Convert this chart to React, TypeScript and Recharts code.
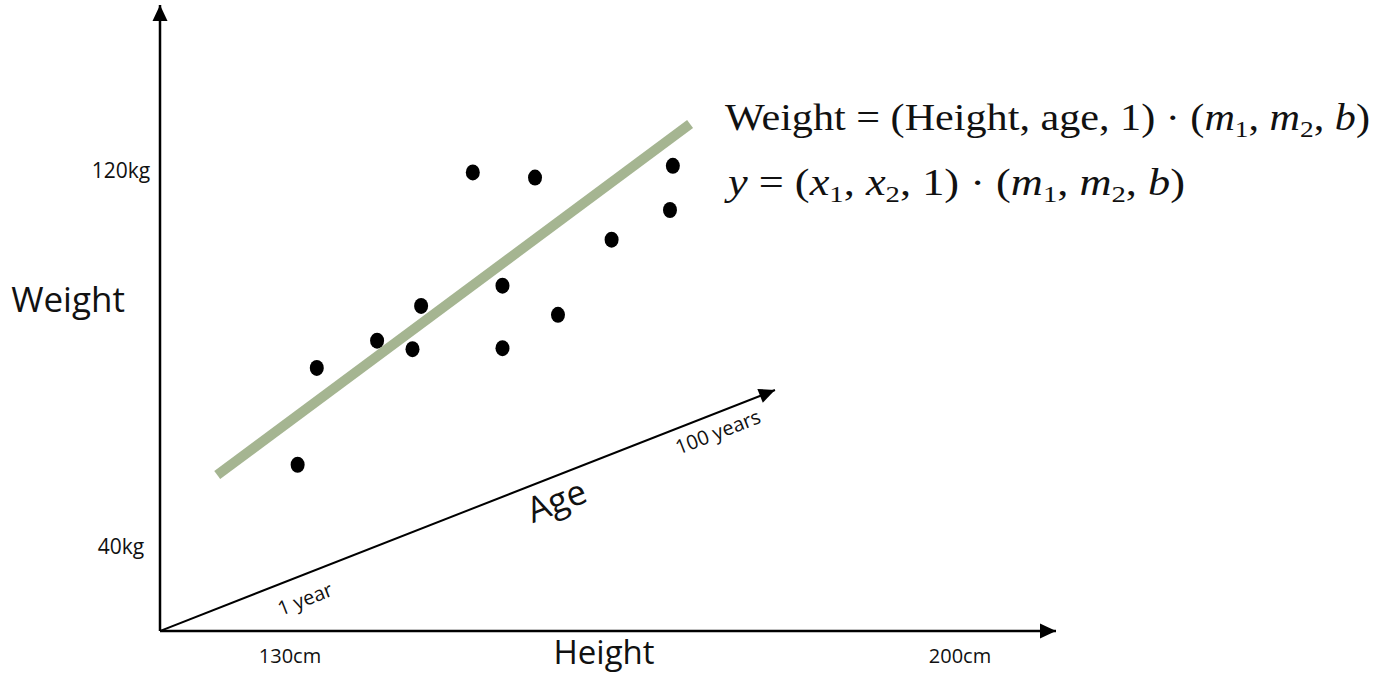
import React from 'react';
import { ComposedChart, XAxis, YAxis, Scatter, Line, ReferenceLine, ReferenceDot } from 'recharts';

// sample people: height (cm) and weight (kg)
const heights = [130.8, 132.8, 139.1, 142.8, 143.7, 149.1, 152.2, 152.2, 155.6, 158.0, 163.6, 169.7, 170.0];
const weights = [57.5, 78.1, 83.9, 82.1, 91.3, 119.7, 95.6, 82.3, 118.6, 89.4, 105.4, 111.7, 121.1];

// fitted line ends
const fitHeights = [122.4, 171.8];
const fitWeights = [55.3, 130.0];

// age axis drawn in perspective (from origin to the 100 years end)
const ageHeights = [116.42, 180.67];
const ageWeights = [22.13, 73.4];

const xTicks = [130, 200];
const xTickLabels = ['130cm', '200cm'];
const yTicks = [40, 120];
const yTickLabels = ['40kg', '120kg'];

const xDomain = [116.42, 210.03];
const yDomain = [22.13, 155.32];

const points = heights.map((h, i) => ({ x: h, y: weights[i] }));
const ageLine = ageHeights.map((h, i) => ({ x: h, y: ageWeights[i] }));

const sans = '"Open Sans", "Noto Sans", sans-serif';
const serif = '"Liberation Serif", "DejaVu Serif", serif';

const XTick = (props: any) => {
  const i = xTicks.indexOf(props.payload.value);
  return (
    <text x={props.x} y={663} textAnchor="middle" fontFamily={sans} fontSize={20} fill="#111">
      {xTickLabels[i]}
    </text>
  );
};

const YTick = (props: any) => {
  const i = yTicks.indexOf(props.payload.value);
  return (
    <text x={121} y={props.y + 7} textAnchor="middle" fontFamily={sans} fontSize={21} fill="#111">
      {yTickLabels[i]}
    </text>
  );
};

const Dot = (props: any) => <ellipse cx={props.cx} cy={props.cy} rx={7} ry={8} fill="#000" />;

const arrow = (angle: number) => (props: any) => {
  const { cx, cy } = props;
  return (
    <polygon
      points={`${cx},${cy} ${cx - 16},${cy - 7.5} ${cx - 16},${cy + 7.5}`}
      fill="#000"
      transform={`rotate(${angle} ${cx} ${cy})`}
    />
  );
};

// subscript followed by the text that comes after it (so the baseline is restored)
const Sub = ({ s, after }: { s: string; after: string }) => (
  <>
    <tspan fontSize={24} dy={7}>{s}</tspan>
    <tspan dy={-7}>{after}</tspan>
  </>
);

const I = ({ children }: { children: string }) => <tspan fontStyle="italic">{children}</tspan>;

export default function App() {
  return (
    <div style={{ position: 'absolute', left: 0, top: 0, width: 1376, height: 675, background: '#fff' }}>
      <ComposedChart width={1376} height={675} margin={{ top: 5, left: 100, right: 320, bottom: 14 }}>
        <XAxis
          type="number"
          dataKey="x"
          domain={xDomain}
          ticks={xTicks}
          tick={<XTick />}
          tickLine={false}
          axisLine={{ stroke: '#000', strokeWidth: 2.5 }}
          height={30}
          allowDataOverflow
        />
        <YAxis
          type="number"
          dataKey="y"
          domain={yDomain}
          ticks={yTicks}
          tick={<YTick />}
          tickLine={false}
          axisLine={{ stroke: '#000', strokeWidth: 2.5 }}
          width={60}
          allowDataOverflow
        />
        <ReferenceLine
          segment={[
            { x: fitHeights[0], y: fitWeights[0] },
            { x: fitHeights[1], y: fitWeights[1] },
          ]}
          stroke="#a5b591"
          strokeWidth={10}
          ifOverflow="visible"
        />
        <Line
          data={ageLine}
          dataKey="y"
          type="linear"
          stroke="#000"
          strokeWidth={2}
          dot={false}
          activeDot={false}
          isAnimationActive={false}
        />
        <Scatter data={points} dataKey="y" shape={<Dot />} isAnimationActive={false} />
        <ReferenceDot x={xDomain[1]} y={yDomain[0]} ifOverflow="visible" shape={arrow(0)} />
        <ReferenceDot x={xDomain[0]} y={yDomain[1]} ifOverflow="visible" shape={arrow(-90)} />
        <ReferenceDot x={ageHeights[1]} y={ageWeights[1]} ifOverflow="visible" shape={arrow(-21.4)} />
      </ComposedChart>
      <svg width={1376} height={675} style={{ position: 'absolute', left: 0, top: 0, pointerEvents: 'none' }}>
        <text x={68} y={312} textAnchor="middle" fontFamily={sans} fontSize={35} fill="#111">Weight</text>
        <text x={604} y={664} textAnchor="middle" fontFamily={sans} fontSize={33} fill="#111">Height</text>
        <text x={557} y={513} textAnchor="middle" fontFamily={sans} fontSize={35} fill="#111" transform="rotate(-21.4 557 502)">Age</text>
        <text x={305} y={606} textAnchor="middle" fontFamily={sans} fontSize={20} fill="#111" transform="rotate(-21.4 305 599)">1 year</text>
        <text x={718} y={439} textAnchor="middle" fontFamily={sans} fontSize={20} fill="#111" transform="rotate(-21.4 718 432)">100 years</text>
        <text x={725} y={130} fontFamily={serif} fontSize={37} fill="#111" textLength={645} lengthAdjust="spacingAndGlyphs">
          Weight = (Height, age, 1) · (<I>m</I><Sub s="1" after=", " /><I>m</I><Sub s="2" after=", " /><I>b</I>)
        </text>
        <text x={728} y={195} fontFamily={serif} fontSize={37} fill="#111" textLength={457} lengthAdjust="spacingAndGlyphs">
          <I>y</I> = (<I>x</I><Sub s="1" after=", " /><I>x</I><Sub s="2" after=", 1) · (" /><I>m</I><Sub s="1" after=", " /><I>m</I><Sub s="2" after=", " /><I>b</I>)
        </text>
      </svg>
    </div>
  );
}
